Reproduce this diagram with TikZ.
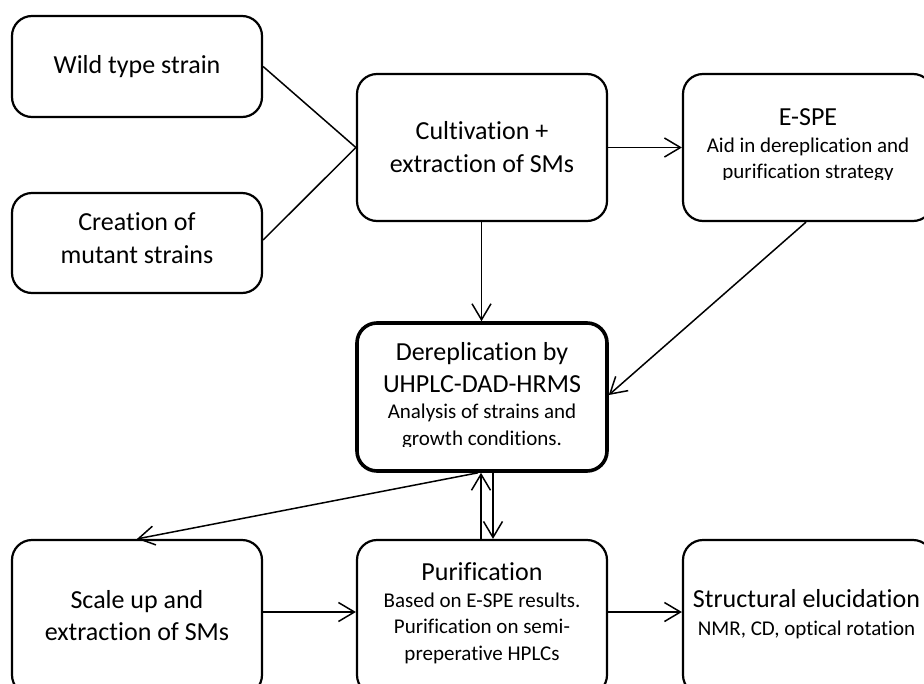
\documentclass[tikz,border=0pt]{standalone}
\usepackage{fontspec}
\setmainfont{Carlito}[Ligatures=NoCommon]
\usetikzlibrary{arrows.meta}
\begin{document}
\begin{tikzpicture}[x=1pt,y=-1pt,
 box/.style={draw, line width=2.2pt, rounded corners=20pt, inner sep=0pt, minimum width=250pt},
 thickbox/.style={box, line width=3.6pt},
 big/.style={font=\fontsize{26}{32}\selectfont, anchor=base, inner sep=0pt},
 small/.style={font=\fontsize{21}{25}\selectfont, anchor=base, inner sep=0pt},
 conn/.style={line width=1.5pt},
 arr/.style={conn, -{Straight Barb[length=16pt,width=19pt,line width=1.5pt]}}]
\clip (0,0) rectangle (924,683);
% boxes
\node[box, minimum height=101pt] (wild) at (137,66.5) {};
\node[box, minimum height=100pt] (crea) at (137,243) {};
\node[box, minimum height=147pt] (cult) at (482,147.5) {};
\node[box, minimum height=147pt] (espe) at (808,147.5) {};
\node[thickbox, minimum height=148pt] (derep) at (482,397) {};
\node[box, minimum height=155pt] (scale) at (137,617.5) {};
\node[box, minimum height=155pt] (pur) at (482,617.5) {};
\node[box, minimum height=155pt] (struct) at (808,617.5) {};
% texts
\node[big] (twild) at (137,73) {Wild type strain};
\node[big] (tcrea1) at (137,230) {Creation of};
\node[big] (tcrea2) at (137,263) {mutant strains};
\node[big] (tcult1) at (482,139) {Cultivation +};
\node[big] (tcult2) at (482,172) {extraction of SMs};
\node[big] (tespe1) at (808,125) {E-SPE};
\node[small] (tespe2) at (808,152) {Aid in dereplication and};
\begin{scope}
\clip (683,74) rectangle (933,179.5);
\node[small] (tespe3) at (808,178) {purification strategy};
\end{scope}
\node[big] (tder1) at (482,360) {Dereplication by};
\node[big] (tder2) at (482,392) {UHPLC-DAD-HRMS};
\node[small] (tder3) at (482,418) {Analysis of strains and};
\begin{scope}
\clip (357,323) rectangle (607,446.5);
\node[small] (tder4) at (482,445) {growth conditions.};
\end{scope}
\node[big] (tsc1) at (137,608) {Scale up and};
\node[big] (tsc2) at (137,640) {extraction of SMs};
\node[big] (tpur1) at (482,580) {Purification};
\node[small] (tpur2) at (482,607) {Based on E-SPE results.};
\node[small] (tpur3) at (482,633) {Purification on semi-};
\node[small] (tpur4) at (482,660) {preperative HPLCs};
\node[big] (tst1) at (806.5,607) {Structural elucidation};
\node[small] (tst2) at (806.5,635) {NMR, CD, optical rotation};
% connectors
\draw[conn] (wild.east) -- (cult.west);
\draw[conn] ([yshift=3pt]crea.east) -- (cult.west);
\draw[arr] (cult.east) -- (espe.west);
\draw[arr] ([xshift=-0.5pt]cult.south) -- ([xshift=-0.5pt]derep.north);
\draw[arr] ([xshift=-2pt]espe.south) -- ([yshift=2pt]derep.east);
\draw[arr] ([xshift=-4pt]derep.south) -- (scale.north);
\draw[arr] ([xshift=-1pt]pur.north) -- ([xshift=-1pt]derep.south);
\draw[arr] ([xshift=11pt]derep.south) -- ([xshift=11pt]pur.north);
\draw[arr] ([yshift=5.5pt]scale.east) -- ([yshift=5.5pt]pur.west);
\draw[arr] ([yshift=5.5pt]pur.east) -- ([yshift=5.5pt]struct.west);
\end{tikzpicture}
\end{document}
